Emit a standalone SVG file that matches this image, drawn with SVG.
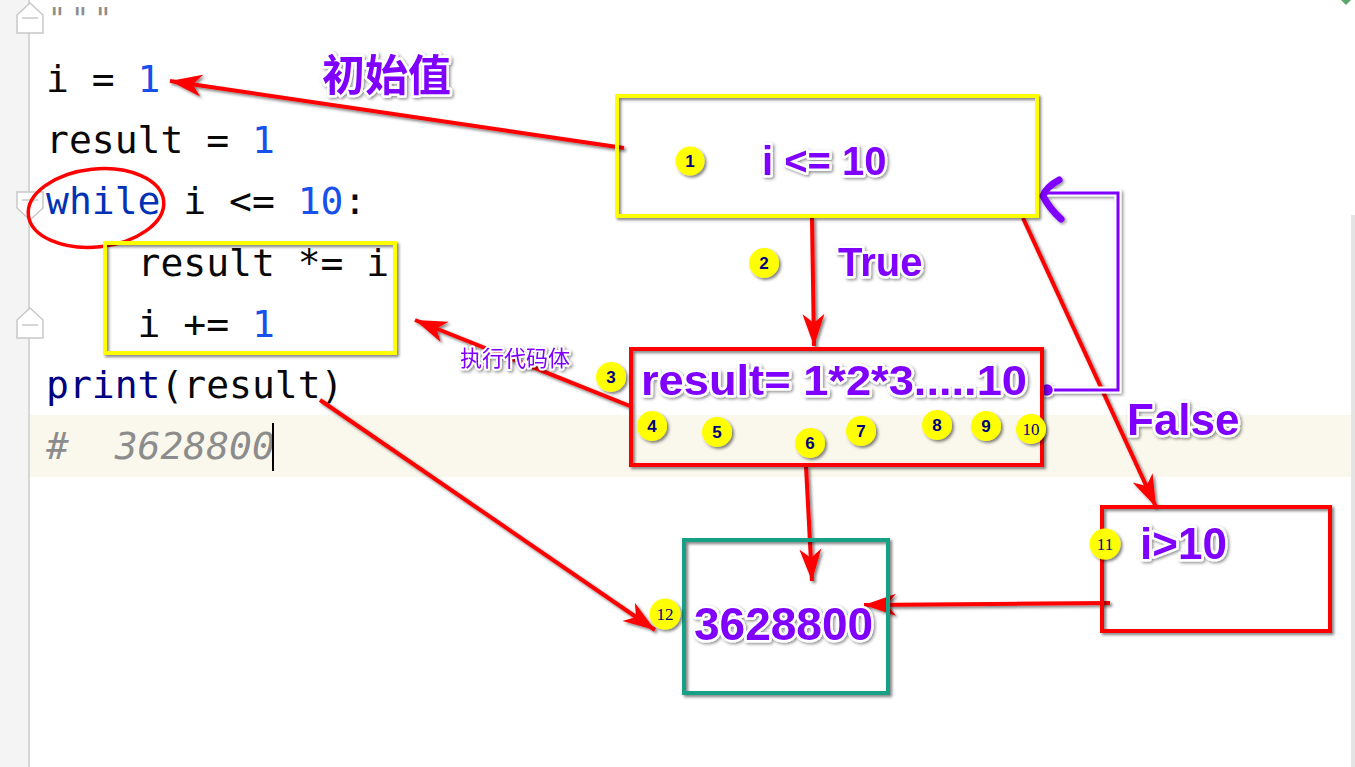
<svg xmlns="http://www.w3.org/2000/svg" width="1355" height="767" viewBox="0 0 1355 767">
<defs>
<style>
.code{font-family:"DejaVu Sans Mono","Liberation Mono",monospace;font-size:38px;fill:#080808;white-space:pre}
.num{fill:#1750eb}
.kw{fill:#0033b3}
.fn{fill:#000080}
.cmt{fill:#8c8c8c;font-style:italic}
.lbl{font-family:"Liberation Sans",Arial,sans-serif;font-weight:bold;fill:#8000ff;stroke:#fff;stroke-width:5px;paint-order:stroke;stroke-linejoin:round;filter:url(#ts)}
.cjk{font-family:"Noto Sans CJK SC","Noto Sans CJK JP",sans-serif;fill:#8000ff;stroke:#fff;stroke-width:5px;paint-order:stroke;stroke-linejoin:round;filter:url(#ts)}
.box{fill:none;stroke-width:4px;filter:url(#bs)}
.badge{fill:#ffff00;filter:url(#bs)}
.bn{font-family:"Liberation Sans",Arial,sans-serif;font-weight:bold;font-size:17px;fill:#000080;text-anchor:middle}
.bn2{font-family:"Liberation Serif","Times New Roman",serif;font-size:17px;fill:#000080;text-anchor:middle}
.arr{fill:none;stroke:#ff0000;stroke-width:4px;marker-end:url(#ah)}
.fold{fill:#fff;stroke:#c8c8c8;stroke-width:1.5px}
</style>
<filter id="ts" filterUnits="userSpaceOnUse" x="0" y="0" width="1355" height="767">
<feDropShadow dx="1.5" dy="1.5" stdDeviation="1.5" flood-color="#000" flood-opacity="0.45"/>
</filter>
<filter id="bs" filterUnits="userSpaceOnUse" x="0" y="0" width="1355" height="767">
<feDropShadow dx="2" dy="2" stdDeviation="1.5" flood-color="#000" flood-opacity="0.5"/>
</filter>
<marker id="ah" markerUnits="userSpaceOnUse" markerWidth="34" markerHeight="26" refX="32" refY="13" orient="auto">
<path d="M0,2 L32,13 L0,24 L9,13 z" fill="#ff0000"/>
</marker>
</defs>

<g id="editor">
<rect x="0" y="0" width="1355" height="767" fill="#ffffff"/>
<rect x="0" y="0" width="29" height="767" fill="#f4f4f4"/>
<rect x="30" y="415" width="1322" height="62" fill="#faf8ec"/>
<rect x="28" y="0" width="2" height="767" fill="#d6d6d6"/>
<rect x="1351" y="215" width="4" height="552" fill="#e4e4e4"/>
<polygon points="1341,0 1351,0 1346,5" fill="#59a869"/>
<path class="fold" d="M17,33 L17,15 L30,3 L43,15 L43,33 Z"/>
<line x1="22" y1="18" x2="38" y2="18" stroke="#c8c8c8" stroke-width="1.5"/>
<path class="fold" d="M17,192 L43,192 L43,208 L30,220 L17,208 Z"/>
<line x1="22" y1="200" x2="38" y2="200" stroke="#c8c8c8" stroke-width="1.5"/>
<path class="fold" d="M17,338 L17,320 L30,308 L43,320 L43,338 Z"/>
<line x1="22" y1="325" x2="38" y2="325" stroke="#c8c8c8" stroke-width="1.5"/>
<text class="code cmt" x="48" y="29" style="font-size:30px;letter-spacing:4.9px">"""</text>
<text class="code" x="46" y="92">i = <tspan class="num">1</tspan></text>
<text class="code" x="46" y="153">result = <tspan class="num">1</tspan></text>
<text class="code" x="46" y="214"><tspan class="kw">while</tspan> i &lt;= <tspan class="num">10</tspan>:</text>
<text class="code" x="46" y="276">    result *= i</text>
<text class="code" x="46" y="337">    i += <tspan class="num">1</tspan></text>
<text class="code" x="46" y="398"><tspan class="fn">print</tspan>(result)</text>
<text class="code cmt" x="46" y="459">#  3628800</text>
<rect x="272" y="423" width="2" height="48" fill="#000"/>
</g>

<g id="while-mark">
<ellipse cx="96" cy="208" rx="68" ry="39" fill="none" stroke="#ff0000" stroke-width="3.5" transform="rotate(-6 96 208)"/>
</g>

<g id="body-box">
<rect class="box" x="105" y="243" width="290" height="110" stroke="#ffff00"/>
</g>

<g id="connectors">
<g filter="url(#bs)">
<line class="arr" x1="624" y1="148" x2="170" y2="81"/>
<line class="arr" x1="812" y1="218" x2="814" y2="346"/>
<line class="arr" x1="630" y1="406" x2="415" y2="320"/>
<line class="arr" x1="1023" y1="218" x2="1156" y2="507"/>
<line class="arr" x1="806" y1="466" x2="812" y2="581"/>
<line class="arr" x1="1110" y1="603" x2="864" y2="605"/>
<line class="arr" x1="320" y1="400" x2="655" y2="630"/>
</g>
<g filter="url(#ts)">
<polyline points="1047,390 1118,390 1118,193 1046,193" fill="none" stroke="#ffffff" stroke-width="7"/>
<polyline points="1047,390 1118,390 1118,193 1046,193" fill="none" stroke="#8000ff" stroke-width="3"/>
<circle cx="1047" cy="390" r="6.5" fill="#8000ff" stroke="#fff" stroke-width="1.5"/>
<path d="M1059,180 Q1046,187 1043,196 Q1049,208 1061,219" fill="none" stroke="#8000ff" stroke-width="7" stroke-linecap="round" stroke-linejoin="round"/>
</g>
</g>

<g id="label-init">
<text class="cjk" x="322" y="91" font-size="43" font-weight="bold">初始值</text>
</g>
<g id="label-exec">
<text class="cjk" x="460" y="366" font-size="22" style="stroke-width:4px">执行代码体</text>
</g>

<g id="node-cond">
<rect class="box" x="617" y="96" width="420" height="120" stroke="#ffff00"/>
<circle class="badge" cx="690" cy="161" r="14.5"/>
<text class="bn" x="690" y="167">1</text>
<text class="lbl" x="762" y="175" font-size="40">i &lt;= 10</text>
</g>

<g id="label-true">
<circle class="badge" cx="764" cy="263" r="15"/>
<text class="bn" x="764" y="269">2</text>
<text class="lbl" x="838" y="276" font-size="40">True</text>
</g>

<g id="node-loop">
<rect class="box" x="631" y="349" width="411" height="116" stroke="#ff0000"/>
<circle class="badge" cx="611" cy="377" r="15"/>
<text class="bn" x="611" y="383">3</text>
<text class="lbl" x="641" y="395" font-size="42" textLength="386" lengthAdjust="spacingAndGlyphs">result= 1*2*3.....10</text>
<circle class="badge" cx="652" cy="426" r="15"/>
<text class="bn" x="652" y="432">4</text>
<circle class="badge" cx="717" cy="432" r="15"/>
<text class="bn" x="717" y="438">5</text>
<circle class="badge" cx="810" cy="443" r="15"/>
<text class="bn" x="810" y="449">6</text>
<circle class="badge" cx="861" cy="431" r="15"/>
<text class="bn" x="861" y="437">7</text>
<circle class="badge" cx="937" cy="425" r="15"/>
<text class="bn" x="937" y="431">8</text>
<circle class="badge" cx="986" cy="426" r="15"/>
<text class="bn" x="986" y="432">9</text>
<circle class="badge" cx="1031" cy="429" r="15"/>
<text class="bn2" x="1031" y="435">10</text>
</g>

<g id="label-false">
<text class="lbl" x="1127" y="435" font-size="44">False</text>
</g>

<g id="node-exit">
<rect class="box" x="1102" y="507" width="228" height="124" stroke="#ff0000"/>
<circle class="badge" cx="1105" cy="544" r="15.5"/>
<text class="bn2" x="1105" y="550">11</text>
<text class="lbl" x="1140" y="559" font-size="44">i&gt;10</text>
</g>

<g id="node-output">
<rect class="box" x="684" y="540" width="204" height="153" stroke="#15a085"/>
<circle class="badge" cx="665" cy="614" r="15.5"/>
<text class="bn2" x="665" y="620">12</text>
<text class="lbl" x="694" y="640" font-size="46">3628800</text>
</g>
</svg>
